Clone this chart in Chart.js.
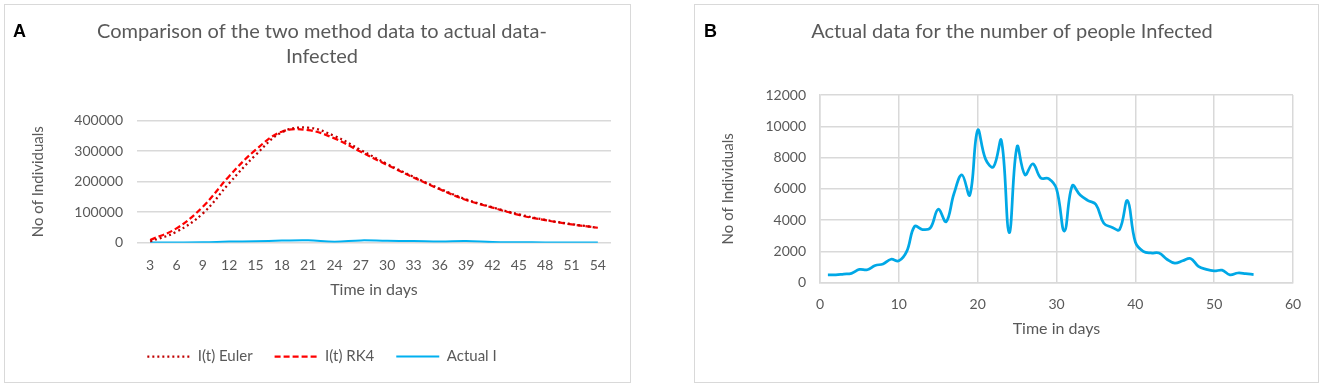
<!DOCTYPE html>
<html>
<head>
<meta charset="utf-8">
<script src="https://cdn.jsdelivr.net/npm/chart.js@4/dist/chart.umd.min.js"></script>
<style>
  body { margin: 0; background: #fff; width: 1324px; height: 387px; position: relative; overflow: hidden; }
  .panel { position: absolute; border: 1px solid #d9d9d9; box-sizing: border-box; }
  .panel canvas { position: absolute; left: 0; top: 0; }
  .tag { position: absolute; font: bold 18px "Liberation Sans", Arial, sans-serif; color: #000; line-height: 1; }
</style>
</head>
<body>
<div class="panel" id="panel-a" style="left:4px; top:4px; width:627px; height:379px;">
  <canvas id="chart-a" width="625" height="377"></canvas>
</div>
<div class="panel" id="panel-b" style="left:694px; top:4px; width:625px; height:379px;">
  <canvas id="chart-b" width="623" height="377"></canvas>
</div>
<div class="tag" style="left:13px; top:22px;">A</div>
<div class="tag" style="left:704px; top:22px;">B</div>

<script>
// Panel A: model runs vs actual, every 3rd day
const daysA = ["3", "6", "9", "12", "15", "18", "21", "24", "27", "30", "33", "36", "39", "42", "45", "48", "51", "54"];
const eulerI = [4000, 36000, 96000, 195000, 287000, 362000, 377000, 350000, 304000, 258000, 216000, 177000, 142000, 116000, 93000, 75000, 61000, 49000];
const rk4I = [9000, 47000, 118000, 218000, 304000, 364000, 369000, 342000, 298000, 255000, 214000, 175000, 140000, 115000, 91000, 74000, 60000, 49000];
const actualA = [550, 830, 1500, 3600, 4700, 6900, 7900, 3200, 7600, 6000, 5600, 3800, 5250, 1900, 1250, 1050, 800, 580];
const ticksA = [0, 100000, 200000, 300000, 400000];

// Panel B: actual daily infected
const daysB = [1, 2, 3, 4, 5, 6, 7, 8, 9, 10, 11, 12, 13, 14, 15, 16, 17, 18, 19, 20, 21, 22, 23, 24, 25, 26, 27, 28,
  29, 30, 31, 32, 33, 34, 35, 36, 37, 38, 39, 40, 41, 42, 43, 44, 45, 46, 47, 48, 49, 50, 51, 52, 53, 54, 55];
const infectedB = [500, 500, 550, 600, 850, 830, 1100, 1200, 1500, 1400, 2000, 3600, 3400, 3500, 4700, 3900, 5700, 6900,
  5600, 9750, 7900, 7400, 9100, 3200, 8700, 6900, 7600, 6700, 6650, 6000, 3300, 6200, 5600, 5250, 5000, 3800, 3550,
  3400, 5250, 2600, 2000, 1900, 1900, 1500, 1250, 1400, 1550, 1050, 850, 750, 800, 500, 620, 580, 520];

const TEXT = "#595959";
const GRID = "#d9d9d9";
Chart.defaults.font.family = "Lato";
Chart.defaults.color = TEXT;

// legend samples: keep each dataset's dash pattern on the line marker
const lineLabels = (chart) =>
  Chart.defaults.plugins.legend.labels.generateLabels(chart).map((item, i) => {
    const ds = chart.data.datasets[i];
    return { ...item, lineDash: ds.borderDash || [], lineWidth: ds.borderWidth, strokeStyle: ds.borderColor };
  });

new Chart(document.getElementById("chart-a"), {
  type: "line",
  data: {
    labels: daysA,
    datasets: [
      { label: "I(t) Euler", data: eulerI, borderColor: "#c00000", borderWidth: 2.25, borderDash: [2, 3], pointRadius: 0, tension: 0.4 },
      { label: "I(t) RK4", data: rk4I, borderColor: "#ff0000", borderWidth: 2.25, borderDash: [6, 3], pointRadius: 0, tension: 0.4 },
      { label: "Actual I", data: actualA, borderColor: "#00b0f0", borderWidth: 2, pointRadius: 0, tension: 0.4 },
    ],
  },
  options: {
    responsive: false,
    animation: false,
    layout: { padding: { left: 28, right: 19, top: 0, bottom: 8 } },
    plugins: {
      title: {
        display: true,
        text: ["Comparison of the two method data to actual data-", "Infected"],
        font: { size: 20, weight: "normal", lineHeight: 1.25 },
        color: TEXT,
        padding: { top: 14.5, bottom: 51.2 },
      },
      legend: {
        position: "bottom",
        labels: {
          usePointStyle: true,
          pointStyle: "line",
          pointStyleWidth: 43,
          padding: 22,
          font: { size: 15 },
          color: TEXT,
          generateLabels: lineLabels,
        },
      },
      tooltip: { enabled: false },
    },
    scales: {
      x: {
        offset: true,
        grid: { display: false, drawTicks: false },
        border: { display: false },
        ticks: { padding: 14, font: { size: 14 }, maxRotation: 0, autoSkip: false },
        title: { display: true, text: "Time in days", font: { size: 16 }, padding: { top: 0, bottom: 27.5 } },
        afterFit: (s) => { s.height = 84.3; },
      },
      y: {
        min: 0,
        max: 400000,
        afterBuildTicks: (s) => { s.ticks = ticksA.map((v) => ({ value: v })); },
        grid: { color: GRID, lineWidth: 1.5, drawTicks: false },
        border: { display: false },
        ticks: { padding: 14, font: { size: 14 }, callback: (v) => String(v) },
        title: { display: true, text: "No of Individuals", font: { size: 15 }, padding: { top: -4, bottom: 0 } },
        afterFit: (s) => { s.width = 104; },
      },
    },
  },
});

new Chart(document.getElementById("chart-b"), {
  type: "line",
  data: {
    datasets: [
      {
        label: "Actual I",
        data: daysB.map((d, i) => ({ x: d, y: infectedB[i] })),
        borderColor: "#00a8e6",
        borderWidth: 2.75,
        pointRadius: 0,
        tension: 0.4,
      },
    ],
  },
  options: {
    responsive: false,
    animation: false,
    layout: { padding: { left: 36, right: 25, top: 0, bottom: 0 } },
    plugins: {
      title: {
        display: true,
        text: "Actual data for the number of people Infected",
        font: { size: 20, weight: "normal", lineHeight: 1.25 },
        color: TEXT,
        padding: { top: 14.5, bottom: 50.5 },
      },
      legend: { display: false },
      tooltip: { enabled: false },
    },
    scales: {
      x: {
        type: "linear",
        min: 0,
        max: 60,
        ticks: { stepSize: 10, padding: 13, font: { size: 14 }, maxRotation: 0 },
        grid: { color: GRID, lineWidth: 1.5, drawTicks: false },
        border: { color: GRID, width: 1.5 },
        title: { display: true, text: "Time in days", font: { size: 16 }, padding: { top: 0, bottom: 43.5 } },
        afterFit: (s) => { s.height = 99.3; },
      },
      y: {
        min: 0,
        max: 12000,
        ticks: { stepSize: 2000, padding: 14, font: { size: 14 }, callback: (v) => String(v) },
        grid: { color: GRID, lineWidth: 1.5, drawTicks: false },
        border: { color: GRID, width: 1.5 },
        title: { display: true, text: "No of Individuals", font: { size: 15 }, padding: { top: -12, bottom: 0 } },
        afterFit: (s) => { s.width = 89; },
      },
    },
  },
});
</script>
</body>
</html>
